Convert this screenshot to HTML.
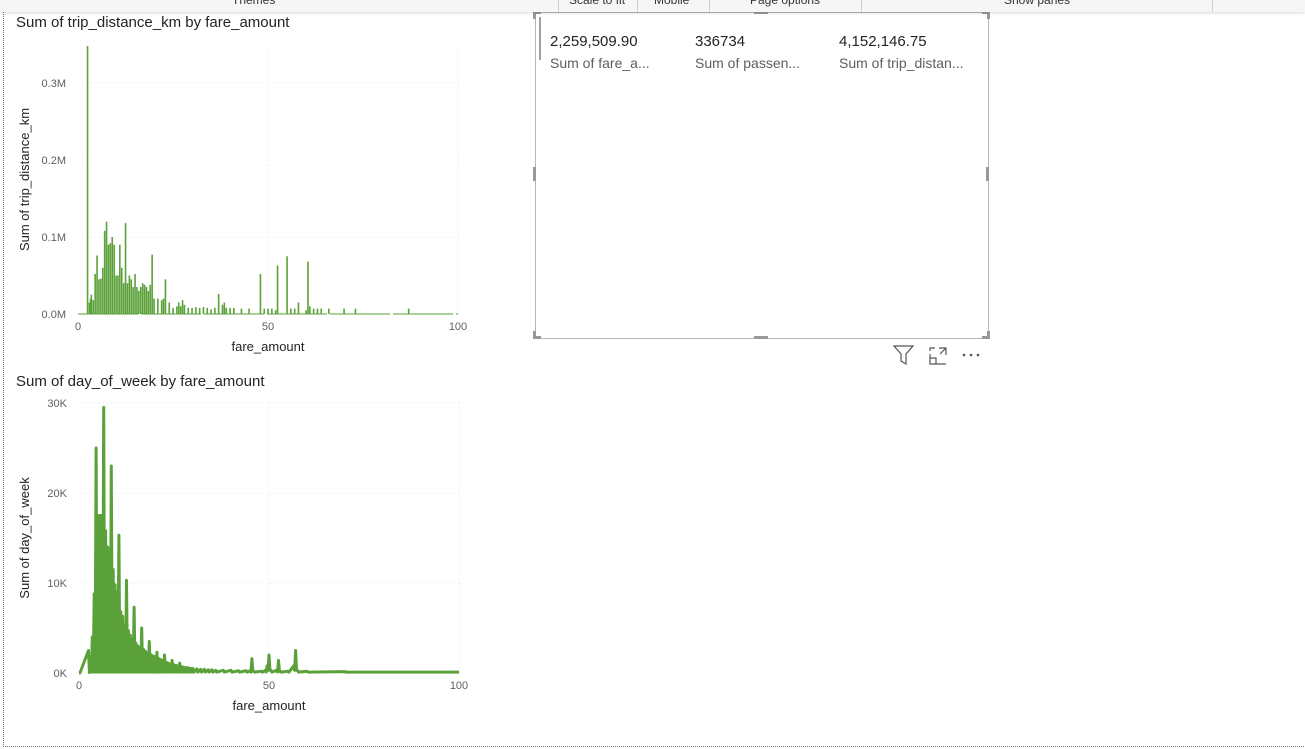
<!DOCTYPE html>
<html><head><meta charset="utf-8">
<style>
body{margin:0;width:1305px;height:749px;background:#fff;position:relative;overflow:hidden;font-family:"Liberation Sans","DejaVu Sans",sans-serif;color:#252423}
.rib{position:absolute;left:0;top:0;width:1305px;height:12px;background:#f6f6f6;box-shadow:0 1px 3px rgba(0,0,0,.15);overflow:hidden;z-index:2}
.rib span{position:absolute;top:-7px;font-size:12px;color:#333}
.rib i{position:absolute;top:0;width:1px;height:12px;background:#d0d0d0}
.page{position:absolute;left:3px;top:12px;width:1310px;height:734px;border-left:1px dotted #777;border-bottom:1px dotted #777}
.title{position:absolute;font-size:15px;color:#252423}
svg text{font-family:"Liberation Sans",sans-serif}
.card{position:absolute;left:535px;top:12px;width:452px;height:325px;border:1px solid #b8b8b8}
.h{position:absolute;background:#999}
.num{position:absolute;top:20px;font-size:15px;color:#252423}
.lab{position:absolute;top:42px;font-size:14px;color:#605e5c}
</style></head><body>
<div class="rib">
<span style="left:232px">Themes</span>
<i style="left:558px"></i><span style="left:569px">Scale to fit</span>
<i style="left:637px"></i><span style="left:654px">Mobile</span>
<i style="left:709px"></i><span style="left:750px">Page options</span>
<i style="left:861px"></i><span style="left:1004px">Show panes</span>
<i style="left:1212px"></i>
</div>
<div class="page"></div>

<div class="title" style="left:16px;top:14px">Sum of trip_distance_km by fare_amount</div>
<svg id="c1" style="position:absolute;left:0;top:30px" width="480" height="330"></svg>
<div class="title" style="left:16px;top:373px">Sum of day_of_week by fare_amount</div>
<svg id="c2" style="position:absolute;left:0;top:390px" width="480" height="330"></svg>

<div class="card">
<div style="position:absolute;left:3px;top:4px;width:2px;height:43px;background:#a0a0a0"></div>
<div class="num" style="left:14px">2,259,509.90</div>
<div class="lab" style="left:14px">Sum of fare_a...</div>
<div class="num" style="left:159px">336734</div>
<div class="lab" style="left:159px">Sum of passen...</div>
<div class="num" style="left:303px">4,152,146.75</div>
<div class="lab" style="left:303px">Sum of trip_distan...</div>
</div>
<div class="h" style="left:533px;top:11px;width:8px;height:3px"></div><div class="h" style="left:533px;top:11px;width:3px;height:8px"></div>
<div class="h" style="left:982px;top:11px;width:8px;height:3px"></div><div class="h" style="left:987px;top:11px;width:3px;height:8px"></div>
<div class="h" style="left:533px;top:336px;width:8px;height:3px"></div><div class="h" style="left:533px;top:331px;width:3px;height:8px"></div>
<div class="h" style="left:982px;top:336px;width:8px;height:3px"></div><div class="h" style="left:987px;top:331px;width:3px;height:8px"></div>
<div class="h" style="left:533px;top:167px;width:3px;height:14px"></div><div class="h" style="left:986px;top:167px;width:3px;height:14px"></div>
<div class="h" style="left:754px;top:336px;width:14px;height:3px"></div><div class="h" style="left:754px;top:11px;width:14px;height:3px"></div>

<svg style="position:absolute;left:893px;top:345px" width="95" height="22">
<path d="M1 1 H20 L13 9 V19 L8 16 V9 Z" fill="none" stroke="#555" stroke-width="1.2"/>
<g fill="none" stroke="#555" stroke-width="1.2"><path d="M37 9 V19 H53"/><path d="M37 13 H43 V19"/><path d="M46 3 H53 V10 M53 3 L47 9"/><path d="M37 6 V3 H42"/></g>
<g fill="#555"><circle cx="71" cy="10" r="1.3"/><circle cx="78" cy="10" r="1.3"/><circle cx="85" cy="10" r="1.3"/></g>
</svg>

<script>
const NS="http://www.w3.org/2000/svg";
// Chart 1 data (value in millions)
const barFares=[2.5,3,3.3,3.5,4,4.5,5,5.5,6,6.5,7,7.5,8,8.5,9,9.5,10,10.5,11,11.5,12,12.5,13,13.5,14,14.5,15,15.5,16,16.5,17,17.5,18,18.5,19,19.5,20,21,22,22.5,23,24,25,26,26.5,27,27.5,28,29,30,31,32,33,34,35,36,37,38,38.5,39,40,41,43,45,48,49,50,51,52,52.5,55,56,57,58,60,60.5,61,62,63,64,66,70,73,87];
const barVals=[0.348,0.015,0.02,0.025,0.018,0.052,0.076,0.045,0.046,0.06,0.108,0.12,0.09,0.092,0.1,0.09,0.05,0.05,0.09,0.06,0.04,0.118,0.04,0.05,0.045,0.035,0.052,0.035,0.03,0.035,0.04,0.038,0.035,0.03,0.038,0.077,0.02,0.02,0.018,0.02,0.045,0.015,0.008,0.01,0.015,0.01,0.018,0.012,0.008,0.008,0.009,0.008,0.009,0.008,0.006,0.008,0.026,0.012,0.015,0.008,0.008,0.008,0.007,0.007,0.052,0.007,0.007,0.007,0.005,0.063,0.075,0.007,0.007,0.015,0.005,0.068,0.01,0.007,0.007,0.007,0.007,0.007,0.007,0.007];
const yTicks1=[0,0.1,0.2,0.3];
const yTickLabels1=["0.0M","0.1M","0.2M","0.3M"];
const xTicks=[0,50,100];
// Chart 2 data (value in thousands)
const lineFares=[0,2.5,3,3.5,4,4.5,5,5.5,6,6.5,7,7.5,8,8.5,9,9.5,10,10.5,11,11.5,12,12.5,13,13.5,14,14.5,15,15.5,16,16.5,17,17.5,18,18.5,19,19.5,20,20.5,21,21.5,22,22.5,23,23.5,24,24.5,25,25.5,26,26.5,27,27.5,28,28.5,29,29.5,30,31,32,33,34,35,36,38,40,42,44,45,45.5,46,48,49,49.5,50,50.5,52,52.5,53,55,56.5,57,57.5,60,70,80,90,100];
const lineHigh=[0,2.5,0.5,4,8.8,25,17.5,17.5,17.5,29.5,15.8,14,13.8,23,11.5,9.8,9,15.3,6.8,6.3,5.2,10.3,4.7,4.2,3.8,7.3,3.3,3,2.8,5,2.6,2.4,2.2,3.5,2,1.9,1.8,2.3,1.6,1.5,1.4,2,1.2,1.1,1,1.4,0.9,0.85,0.8,1.1,0.7,0.65,0.6,0.6,0.55,0.5,0.5,0.45,0.4,0.4,0.35,0.35,0.3,0.3,0.3,0.25,0.25,0.25,1.6,0.2,0.2,0.3,0.8,2,0.3,0.3,1.4,0.2,0.2,0.8,2.5,0.3,0.2,0.15,0.1,0.1,0.1];
const lineLow=[0,0.05,0.1,0.1,0.1,0.1,0.1,0.1,0.1,0.1,0.1,0.1,0.1,0.1,0.1,0.1,0.1,0.1,0.1,0.1,0.1,0.1,0.1,0.1,0.1,0.1,0.1,0.1,0.1,0.1,0.1,0.1,0.1,0.1,0.1,0.1,0.1,0.1,0.1,0.1,0.1,0.1,0.1,0.1,0.1,0.1,0.1,0.1,0.1,0.1,0.1,0.1,0.1,0.1,0.1,0.1,0.1,0.1,0.1,0.1,0.1,0.1,0.1,0.1,0.1,0.1,0.1,0.1,0.2,0.1,0.1,0.1,0.3,0.3,0.1,0.1,0.2,0.1,0.1,0.3,0.3,0.1,0.1,0.1,0.1,0.1,0.1];
const yTicks2=[0,10,20,30];
const yTickLabels2=["0K","10K","20K","30K"];

function el(svg,tag,attrs,txt){const e=document.createElementNS(NS,tag);for(const k in attrs)e.setAttribute(k,attrs[k]);if(txt!==undefined)e.textContent=txt;svg.appendChild(e);return e;}

function axes(svg,x,y,yt,ytl,ymax,ylab,plotTop,plotBot,x0,x1){
  yt.forEach((v,i)=>{
    const g=el(svg,'line',{x1:x0,x2:x1+2,y1:y(v),y2:y(v),stroke:'#e6e6e6','stroke-dasharray':'1,3'});
    
    
    const t=el(svg,'text',{x:x0-12,y:y(v)+4,'text-anchor':'end','font-size':11,fill:'#605e5c'},ytl[i]);
    
    
  });
  xTicks.forEach(v=>{
    if(v>0){const g=el(svg,'line',{x1:x(v),x2:x(v),y1:plotTop,y2:plotBot,stroke:'#e6e6e6','stroke-dasharray':'1,3'});
    
    }
    const t=el(svg,'text',{x:x(v),y:plotBot+16,'text-anchor':'middle','font-size':11,fill:'#605e5c'},String(v));
    
    
  });
  const xt=el(svg,'text',{x:(x0+x1)/2,y:plotBot+37,'text-anchor':'middle','font-size':13,fill:'#252423'},'fare_amount');
  
  
  const ytt=el(svg,'text',{x:0,y:0,'text-anchor':'middle','font-size':13,fill:'#252423',transform:`translate(29,${(plotTop+plotBot)/2}) rotate(-90)`},ylab);
  
  
}

(function(){
  const svg=document.getElementById('c1');
  const X0=78,X1=458,Y0=284,Ymax=0.3,YmaxPx=53;
  const x=v=>X0+(X1-X0)*v/100;
  const y=v=>Y0-(Y0-YmaxPx)*v/Ymax;
  axes(svg,x,y,yTicks1,yTickLabels1,Ymax,'Sum of trip_distance_km',15,Y0,X0,X1);
  el(svg,'line',{x1:x(0),x2:x(100),y1:Y0,y2:Y0,stroke:'#5aa13a','stroke-width':1,'stroke-dasharray':'60,3'});
  barFares.forEach((f,i)=>{
    const h=Y0-y(barVals[i]);
    const b=el(svg,'rect',{x:x(f)-0.75,y:y(barVals[i]),width:1.6,height:h,fill:'#5aa13a'});
    
    
  });
})();

(function(){
  const svg=document.getElementById('c2');
  const X0=79,X1=459,Y0=283,YmaxPx=13,Ymax=30;
  const x=v=>X0+(X1-X0)*v/100;
  const y=v=>Y0-(Y0-YmaxPx)*v/Ymax;
  axes(svg,x,y,yTicks2,yTickLabels2,Ymax,'Sum of day_of_week',13,Y0,X0,X1);
  let d='';
  lineFares.forEach((f,i)=>{
    d+=(i?'L':'M')+x(f).toFixed(2)+' '+y(lineHigh[i]).toFixed(2)+' ';
    if(i<lineFares.length-1) d+='L'+x(f+0.25).toFixed(2)+' '+y(lineLow[i]).toFixed(2)+' ';
  });
  const p=el(svg,'path',{d:d,fill:'none',stroke:'#5aa13a','stroke-width':3,'stroke-linejoin':'round'});
  
  
})();
</script>
</body></html>
